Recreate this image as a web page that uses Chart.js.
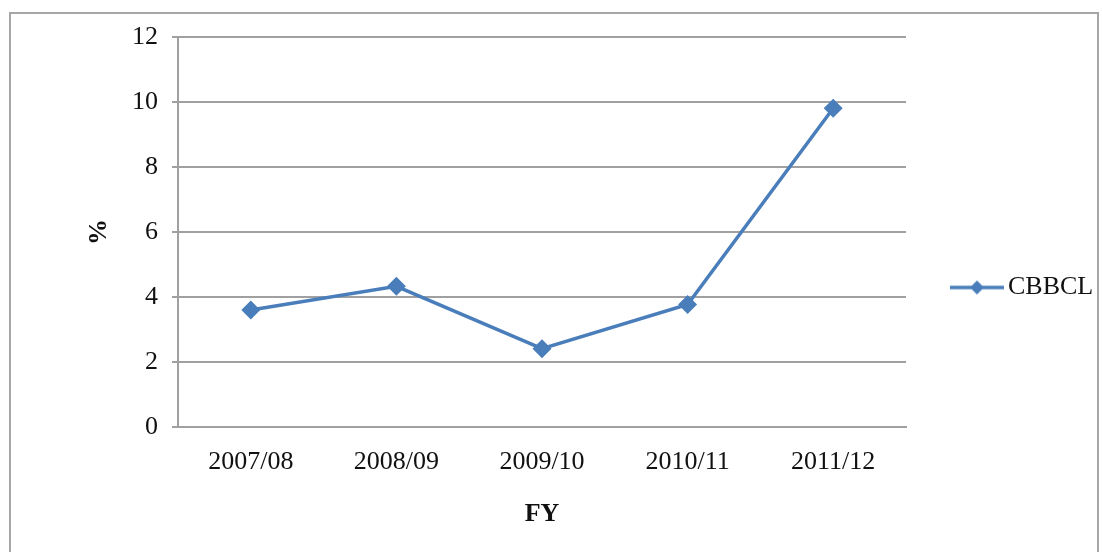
<!DOCTYPE html>
<html>
<head>
<meta charset="utf-8">
<script src="https://cdn.jsdelivr.net/npm/chart.js@4/dist/chart.umd.min.js"></script>
<style>
  html, body { margin: 0; padding: 0; background: #fff; }
  #wrap { position: relative; width: 1102px; height: 552px; }
  #frame { position: absolute; left: 9px; top: 12px; width: 1090px; height: 560px; border: 2px solid #a6a6a6; box-sizing: border-box; }
  canvas { position: absolute; left: 0; top: 0; }
</style>
</head>
<body>
<div id="wrap">
  <div id="frame"></div>
  <canvas id="fy-chart" width="1102" height="552"></canvas>
</div>
<script>
const years = ['2007/08', '2008/09', '2009/10', '2010/11', '2011/12'];
const cbbcl = [3.6, 4.33, 2.41, 3.77, 9.81];
const yTicks = [0, 2, 4, 6, 8, 10, 12];

const blue = '#4a7ebb';
const serif = "'Liberation Serif', 'Times New Roman', serif";

// legend icon: line with diamond marker
const icon = document.createElement('canvas');
icon.width = 54;
icon.height = 18;
const ic = icon.getContext('2d');
ic.strokeStyle = blue;
ic.lineWidth = 3.5;
ic.beginPath();
ic.moveTo(0, 9);
ic.lineTo(54, 9);
ic.stroke();
ic.fillStyle = blue;
ic.beginPath();
ic.moveTo(27, 2);
ic.lineTo(34, 9);
ic.lineTo(27, 16);
ic.lineTo(20, 9);
ic.closePath();
ic.fill();

const legendWidth = {
    id: 'legendWidth',
    beforeInit(chart) {
        const fit = chart.legend.fit;
        chart.legend.fit = function () {
            fit.bind(chart.legend)();
            this.width = 196;
        };
    }
};

const ctx = document.getElementById('fy-chart');

new Chart(ctx, {
    type: 'line',
    data: {
        labels: years,
        datasets: [{
            label: 'CBBCL',
            data: cbbcl,
            borderColor: blue,
            backgroundColor: blue,
            borderWidth: 3.5,
            pointStyle: 'rectRot',
            pointRadius: 7,
            pointHoverRadius: 7,
            tension: 0
        }]
    },
    options: {
        responsive: false,
        animation: false,
        layout: {
            padding: { left: 0, top: 37, right: 0, bottom: 14 }
        },
        scales: {
            x: {
                offset: true,
                grid: { display: false, drawTicks: false },
                border: { display: true, color: '#a0a0a0', width: 2 },
                ticks: {
                    color: '#111',
                    padding: 20,
                    font: { family: serif, size: 26 }
                },
                title: {
                    display: true,
                    text: 'FY',
                    color: '#111',
                    padding: { top: 0, bottom: 8 },
                    font: { family: serif, size: 26, weight: 'bold' }
                },
                afterFit(scale) {
                    scale.height = 111;
                }
            },
            y: {
                min: 0,
                max: 12,
                afterBuildTicks(scale) {
                    scale.ticks = yTicks.map(v => ({ value: v }));
                },
                grid: {
                    color: '#a0a0a0',
                    lineWidth: 2,
                    tickLength: 6
                },
                border: { display: true, color: '#a0a0a0', width: 2 },
                ticks: {
                    color: '#111',
                    padding: 14,
                    font: { family: serif, size: 26 }
                },
                title: {
                    display: true,
                    text: '%',
                    color: '#111',
                    padding: { top: 84, bottom: 0 },
                    font: { family: serif, size: 26, weight: 'bold' }
                },
                afterFit(scale) {
                    scale.width = 178;
                }
            }
        },
        plugins: {
            legend: {
                position: 'right',
                labels: {
                    usePointStyle: true,
                    pointStyle: icon,
                    pointStyleWidth: 36,
                    padding: 53,
                    color: '#111',
                    font: { family: serif, size: 26 }
                }
            },
            tooltip: { enabled: false }
        }
    },
    plugins: [legendWidth]
});
</script>
</body>
</html>
